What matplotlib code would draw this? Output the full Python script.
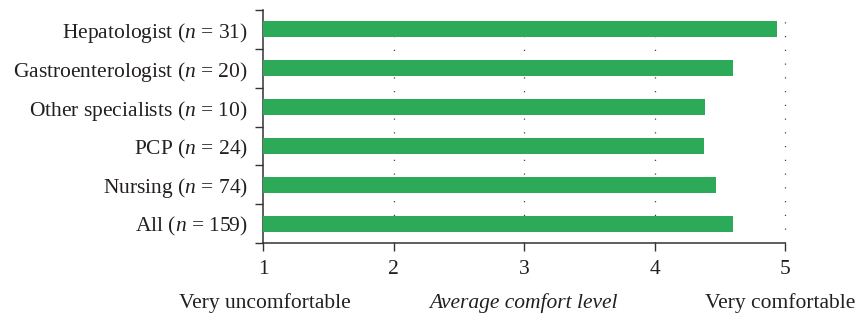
import matplotlib
matplotlib.use("Agg")
import matplotlib.pyplot as plt
import numpy as np

categories = ["Hepatologist", "Gastroenterologist", "Other specialists", "PCP", "Nursing", "All"]
counts = [31, 20, 10, 24, 74, 159]
values = [4.94, 4.60, 4.39, 4.38, 4.47, 4.60]
xticks = [1, 2, 3, 4, 5]

plt.rcParams['font.family'] = ['Liberation Serif']
plt.rcParams['mathtext.fontset'] = 'custom'
plt.rcParams['mathtext.rm'] = 'Liberation Serif'
plt.rcParams['mathtext.it'] = 'Liberation Serif:italic'

FS = 15.5
textc = '#231f20'
fig = plt.figure(figsize=(8.59, 3.19), dpi=100)
ax = fig.add_axes([263/859, 1-243/319, (785-263)/859, (243-10)/319])

y = np.arange(len(categories))
ax.barh(y, np.array(values) - 1, left=1, height=0.41, color='#2DAA58', zorder=3)

ax.set_xlim(1, 5)
ax.set_ylim(len(categories) - 0.5, -0.5)
ax.set_xticks(xticks)
ax.set_xticklabels([str(t) for t in xticks], fontsize=FS, color=textc)
labels = [f"{c} ($n$ = {n})" for c, n in zip(categories, counts)]
ax.set_yticks(y)
ax.set_yticklabels(labels, fontsize=FS, color=textc)
ax.set_yticks(np.arange(-0.5, len(categories), 1.0), minor=True)
ax.tick_params(axis='y', which='major', length=0, pad=11)
ax.tick_params(axis='y', which='minor', length=6, width=1, color='#333333')
ax.tick_params(axis='x', which='major', length=6, width=1, color='#333333', pad=6)

for s in ['top', 'right']:
    ax.spines[s].set_visible(False)
for s in ['left', 'bottom']:
    ax.spines[s].set_color('#333333')
    ax.spines[s].set_linewidth(1.1)

for xv in xticks[1:]:
    ax.axvline(xv, color='#444444', linewidth=0.9, linestyle=(0, (1, 10)), zorder=1, clip_on=False)

fig.text(265/859, 1-303/319, "Very uncomfortable", ha='center', va='center', fontsize=FS, color=textc)
fig.text(523/859, 1-303/319, "Average comfort level", ha='center', va='center', fontsize=FS, style='italic', color=textc)
fig.text(855/859, 1-303/319, "Very comfortable", ha='right', va='center', fontsize=FS, color=textc)

fig.savefig("out.png", dpi=100)
